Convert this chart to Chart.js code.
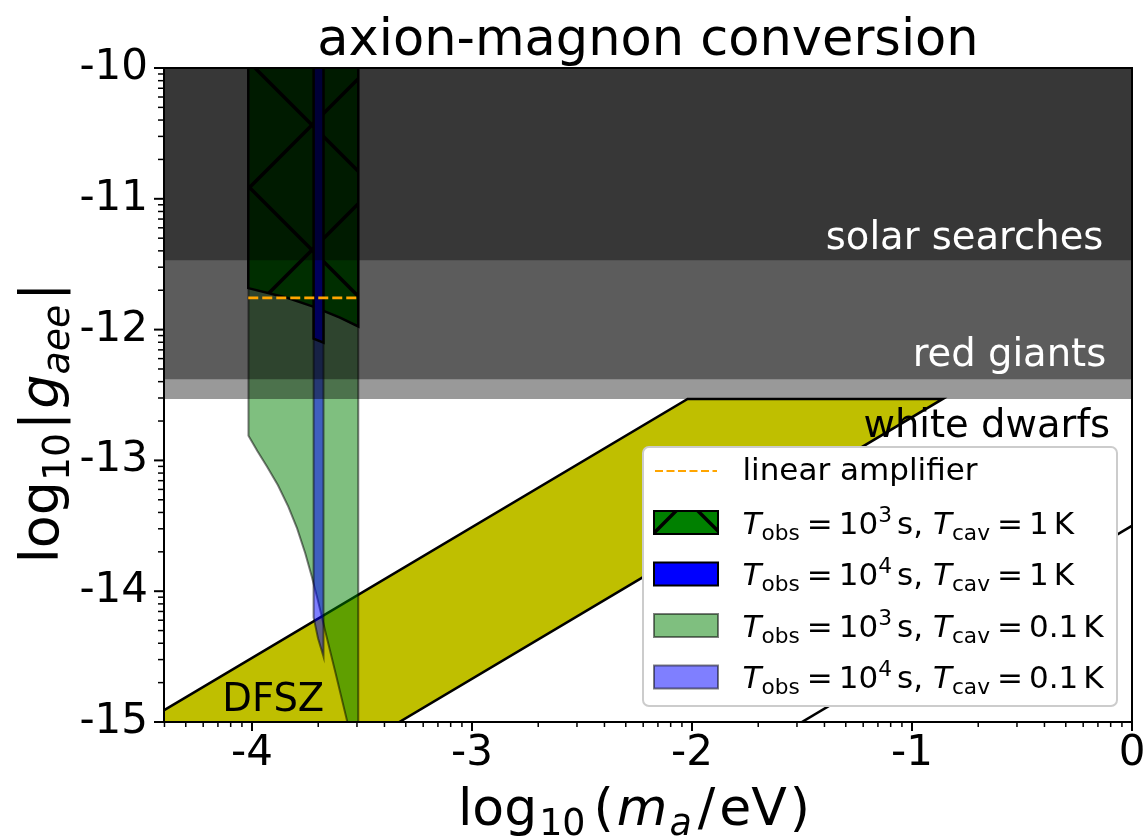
<!DOCTYPE html>
<html>
<head>
<meta charset="utf-8">
<script src="https://cdn.jsdelivr.net/npm/chart.js@4.4.1/dist/chart.umd.min.js"></script>
<style>
  html, body { margin: 0; padding: 0; background: #ffffff; }
  #wrap { width: 1145px; height: 836px; }
</style>
</head>
<body>
<div id="wrap"><canvas id="c" width="1145" height="836"></canvas></div>
<script>
// ---- axes ----
const xRange = [-4.4, 0];
const yRange = [-15, -10];
const xTicks = [-4, -3, -2, -1, 0];
const xTickLabels = ['-4', '-3', '-2', '-1', '0'];
const yTicks = [-15, -14, -13, -12, -11, -10];
const yTickLabels = ['-15', '-14', '-13', '-12', '-11', '-10'];

// ---- astrophysical bounds on log10|g_aee| (excluded above the limit) ----
const boundLabels = ['solar searches', 'red giants', 'white dwarfs'];
const boundLimits = [-11.47, -12.38, -12.53];
const boundLabelX = [-0.13, -0.117, -0.1];
const boundLabelY = [-11.38, -12.277, -12.82];
const boundTextColors = ['#ffffff', '#ffffff', '#000000'];

// ---- DFSZ band and model line ----
const dfszX = [-4.62, -2.02, -0.86, -3.52, -4.62, -4.62];
const dfszY = [-15.13, -12.53, -12.53, -15.19, -15.19, -15.13];
const dfszLabelX = -4.135;
const dfszLabelY = -14.915;
const modelLineX = [-1.7, 0.2];
const modelLineY = [-15.2, -13.3];

// ---- magnon sensitivity regions ----
// T_obs = 10^3 s, T_cav = 1 K
const reach3s1KX = [-4.017, -4.017, -3.85, -3.722, -3.6, -3.517, -3.517];
const reach3s1KY = [-9.8, -11.683, -11.752, -11.824, -11.909, -11.976, -9.8];
// T_obs = 10^4 s, T_cav = 1 K
const reach4s1KX = [-3.72, -3.72, -3.675, -3.675];
const reach4s1KY = [-9.8, -12.07, -12.10, -9.8];
// T_obs = 10^3 s, T_cav = 0.1 K
const reach3s01KX = [-4.016, -4.016, -3.975, -3.932, -3.882, -3.835, -3.795, -3.758, -3.728, -3.701, -3.665, -3.62, -3.568, -3.517, -3.517];
const reach3s01KY = [-9.8, -12.812, -12.93, -13.047, -13.19, -13.353, -13.52, -13.71, -13.89, -14.067, -14.32, -14.628, -14.99, -15.39, -9.8];
// T_obs = 10^4 s, T_cav = 0.1 K
const reach4s01KX = [-3.72, -3.72, -3.70, -3.675, -3.675];
const reach4s01KY = [-9.8, -14.2, -14.36, -14.5, -9.8];
// linear amplifier
const ampX = [-4.017, -3.517];
const ampY = [-11.757, -11.757];

// legend text pieces
const obsExponents = [3, 4, 3, 4];
const cavityTemps = ['1', '1', '0.1', '0.1'];

const FONT = '"DejaVu Sans", sans-serif';

function pts(xs, ys) { return xs.map((x, i) => ({ x: x, y: ys[i] })); }

// green fill with a black diagonal cross hatch
function makeHatch() {
  const P = 125;
  const c = document.createElement('canvas');
  c.width = P; c.height = P;
  const g = c.getContext('2d');
  g.fillStyle = '#008000';
  g.fillRect(0, 0, P, P);
  g.strokeStyle = '#000000';
  g.lineWidth = 3.5;
  g.beginPath();
  for (let k = -2; k <= 2; k++) {
    const o = 62 + k * P;
    g.moveTo(o - 10, -10); g.lineTo(o + P + 10, P + 10);
    g.moveTo(o + 10, -10); g.lineTo(o - P - 10, P + 10);
  }
  g.stroke();
  return g.createPattern(c, 'repeat');
}
const hatch = makeHatch();

function region(label, xs, ys, fill, edge, width, order) {
  return {
    label: label, data: pts(xs, ys), backgroundColor: fill, borderColor: edge,
    borderWidth: width, fill: 'shape', order: order, pointRadius: 0, tension: 0
  };
}

const sens = [
  region('T3 1K', reach3s1KX, reach3s1KY, hatch, '#000000', 2.5, 6),
  region('T4 1K', reach4s1KX, reach4s1KY, '#0000ff', '#000000', 2.5, 5),
  region('T3 0.1K', reach3s01KX, reach3s01KY, 'rgba(0,128,0,0.5)', 'rgba(0,0,0,0.5)', 2, 8),
  region('T4 0.1K', reach4s01KX, reach4s01KY, 'rgba(0,0,255,0.5)', 'rgba(0,0,0,0.5)', 2, 7)
];

const datasets = [
  region('DFSZ', dfszX, dfszY, '#bfbf00', '#000000', 2.5, 10),
  { label: 'model line', data: pts(modelLineX, modelLineY), borderColor: '#000000', borderWidth: 2.5,
    fill: false, pointRadius: 0, order: 9 },
  ...sens,
  ...boundLimits.map((lim, i) => region(boundLabels[i], [-5, 1, 1, -5], [lim, lim, -9.5, -9.5],
    'rgba(0,0,0,0.4)', 'rgba(0,0,0,0)', 0, 2 + i)),
  { label: 'linear amplifier', data: pts(ampX, ampY), borderColor: '#ffa500', borderWidth: 2.7,
    borderDash: [10, 4], fill: false, pointRadius: 0, order: 1 }
];

// text with italic / subscript / superscript pieces
function drawRich(ctx, segs, x, y, size, align) {
  const parts = segs.map(s => {
    const sz = (s.sub || s.sup) ? size * 0.7 : size;
    const font = (s.it ? 'italic ' : '') + sz + 'px ' + FONT;
    ctx.font = font;
    const w = ctx.measureText(s.t).width;
    const dy = s.sub ? size * 0.2 : (s.sup ? -size * 0.38 : 0);
    return { t: s.t, font: font, w: w, dy: dy, gap: s.gap || 0 };
  });
  const total = parts.reduce((a, p) => a + p.w + p.gap, 0);
  let cx = align === 'center' ? x - total / 2 : (align === 'right' ? x - total : x);
  ctx.textAlign = 'left';
  ctx.textBaseline = 'alphabetic';
  for (const p of parts) {
    cx += p.gap;
    ctx.font = p.font;
    ctx.fillText(p.t, cx, y + p.dy);
    cx += p.w;
  }
}

function sensLabel(exp, temp) {
  return [
    { t: 'T', it: true }, { t: 'obs', sub: true },
    { t: '=', gap: 7 }, { t: '10', gap: 6 }, { t: String(exp), sup: true },
    { t: 's,', gap: 5 }, { t: 'T', it: true, gap: 10 }, { t: 'cav', sub: true },
    { t: '=', gap: 7 }, { t: temp, gap: 6 }, { t: 'K', gap: 5 }
  ];
}

const decor = {
  id: 'decor',
  afterDraw(chart) {
    const ctx = chart.ctx;
    const a = chart.chartArea;
    const xs = chart.scales.x, ys = chart.scales.y;
    const midX = (a.left + a.right) / 2;
    ctx.save();

    // title
    ctx.fillStyle = '#000000';
    ctx.font = '51px ' + FONT;
    ctx.textAlign = 'center';
    ctx.textBaseline = 'alphabetic';
    ctx.fillText('axion-magnon conversion', midX, a.top - 13);

    // bound and band labels
    ctx.font = '38.5px ' + FONT;
    ctx.textAlign = 'right';
    boundLabels.forEach((t, i) => {
      ctx.fillStyle = boundTextColors[i];
      ctx.fillText(t, xs.getPixelForValue(boundLabelX[i]), ys.getPixelForValue(boundLabelY[i]));
    });
    ctx.fillStyle = '#000000';
    ctx.textAlign = 'left';
    ctx.fillText('DFSZ', xs.getPixelForValue(dfszLabelX), ys.getPixelForValue(dfszLabelY));

    // ticks
    ctx.strokeStyle = '#000000';
    const tick = (x1, y1, x2, y2, w) => {
      ctx.lineWidth = w; ctx.beginPath(); ctx.moveTo(x1, y1); ctx.lineTo(x2, y2); ctx.stroke();
    };
    xTicks.forEach(v => { const p = xs.getPixelForValue(v); tick(p, a.bottom, p, a.bottom + 9, 2); });
    yTicks.forEach(v => { const p = ys.getPixelForValue(v); tick(a.left, p, a.left - 10, p, 2); });
    for (let d = -5; d <= -1; d++) {
      for (let k = 2; k <= 9; k++) {
        const v = d + Math.log10(k);
        if (v < xRange[0] - 0.005 || v > xRange[1]) continue;
        const p = xs.getPixelForValue(v);
        tick(p, a.bottom, p, a.bottom + 5, 1.5);
      }
    }
    for (let d = -16; d <= -11; d++) {
      for (let k = 2; k <= 9; k++) {
        const v = d + Math.log10(k);
        if (v < yRange[0] || v > yRange[1]) continue;
        const p = ys.getPixelForValue(v);
        tick(a.left, p, a.left - 6, p, 1.5);
      }
    }

    // frame
    ctx.lineWidth = 2;
    ctx.strokeRect(a.left, a.top, a.right - a.left, a.bottom - a.top);

    // legend
    const W = 474, H = 259;
    const L = a.right - 15 - W, T = a.bottom - 16 - H;
    ctx.beginPath();
    ctx.roundRect(L, T, W, H, 6);
    ctx.fillStyle = '#ffffff';
    ctx.fill();
    ctx.lineWidth = 2;
    ctx.strokeStyle = '#cccccc';
    ctx.stroke();

    const rowY = i => T + 24 + i * 51.5;
    ctx.strokeStyle = '#ffa500';
    ctx.lineWidth = 2;
    ctx.setLineDash([8, 3.5]);
    ctx.beginPath(); ctx.moveTo(L + 12, rowY(0)); ctx.lineTo(L + 74, rowY(0)); ctx.stroke();
    ctx.setLineDash([]);
    ctx.fillStyle = '#000000';
    ctx.font = '31px ' + FONT;
    ctx.textAlign = 'left';
    ctx.textBaseline = 'middle';
    ctx.fillText('linear amplifier', L + 99.5, rowY(0) + 1);

    sens.forEach((ds, i) => {
      const cy = rowY(i + 1);
      ctx.fillStyle = '#ffffff';
      ctx.fillRect(L + 11, cy - 11.5, 64, 23);
      ctx.fillStyle = ds.backgroundColor;
      ctx.fillRect(L + 11, cy - 11.5, 64, 23);
      ctx.strokeStyle = ds.borderColor;
      ctx.lineWidth = 2;
      ctx.strokeRect(L + 11, cy - 11.5, 64, 23);
      ctx.fillStyle = '#000000';
      drawRich(ctx, sensLabel(obsExponents[i], cavityTemps[i]), L + 99.5, cy + 11, 31, 'left');
    });

    // axis titles
    ctx.fillStyle = '#000000';
    drawRich(ctx, [{ t: 'log' }, { t: '10', sub: true, gap: 2 }, { t: '(', gap: 8 }, { t: 'm', it: true, gap: 3 },
      { t: 'a', it: true, sub: true, gap: 2 }, { t: '/', gap: 6 }, { t: 'eV', gap: 4 }, { t: ')', gap: 3 }],
      midX - 14, 825, 52, 'center');
    ctx.save();
    ctx.translate(58, 423);
    ctx.rotate(-Math.PI / 2);
    drawRich(ctx, [{ t: 'log' }, { t: '10', sub: true }, { t: '|', gap: 3 }, { t: 'g', it: true, gap: 3 },
      { t: 'aee', it: true, sub: true }, { t: '|', gap: 4 }], 0, 0, 54, 'center');
    ctx.restore();

    ctx.restore();
  }
};

new Chart(document.getElementById('c'), {
  type: 'line',
  data: { datasets: datasets },
  options: {
    responsive: false,
    devicePixelRatio: 1,
    animation: false,
    events: [],
    layout: { padding: { left: 0, right: 13, top: 68, bottom: 0 } },
    plugins: {
      legend: { display: false },
      tooltip: { enabled: false },
      title: { display: false }
    },
    scales: {
      x: {
        type: 'linear', min: xRange[0], max: xRange[1],
        afterBuildTicks: s => { s.ticks = xTicks.map(v => ({ value: v })); },
        afterFit: s => { s.height = 114; s.paddingLeft = 0; s.paddingRight = 0; },
        grid: { display: false, drawTicks: false },
        border: { display: false },
        ticks: {
          color: '#000000', font: { family: FONT, size: 42 }, padding: 7,
          maxRotation: 0, autoSkip: false,
          callback: v => xTickLabels[xTicks.indexOf(v)]
        }
      },
      y: {
        type: 'linear', min: yRange[0], max: yRange[1],
        afterBuildTicks: s => { s.ticks = yTicks.map(v => ({ value: v })); },
        afterFit: s => { s.width = 164; s.paddingTop = 0; s.paddingBottom = 0; },
        grid: { display: false, drawTicks: false },
        border: { display: false },
        ticks: {
          color: '#000000', font: { family: FONT, size: 42 }, padding: 16,
          autoSkip: false,
          callback: v => yTickLabels[yTicks.indexOf(v)]
        }
      }
    }
  },
  plugins: [decor]
});
</script>
</body>
</html>
